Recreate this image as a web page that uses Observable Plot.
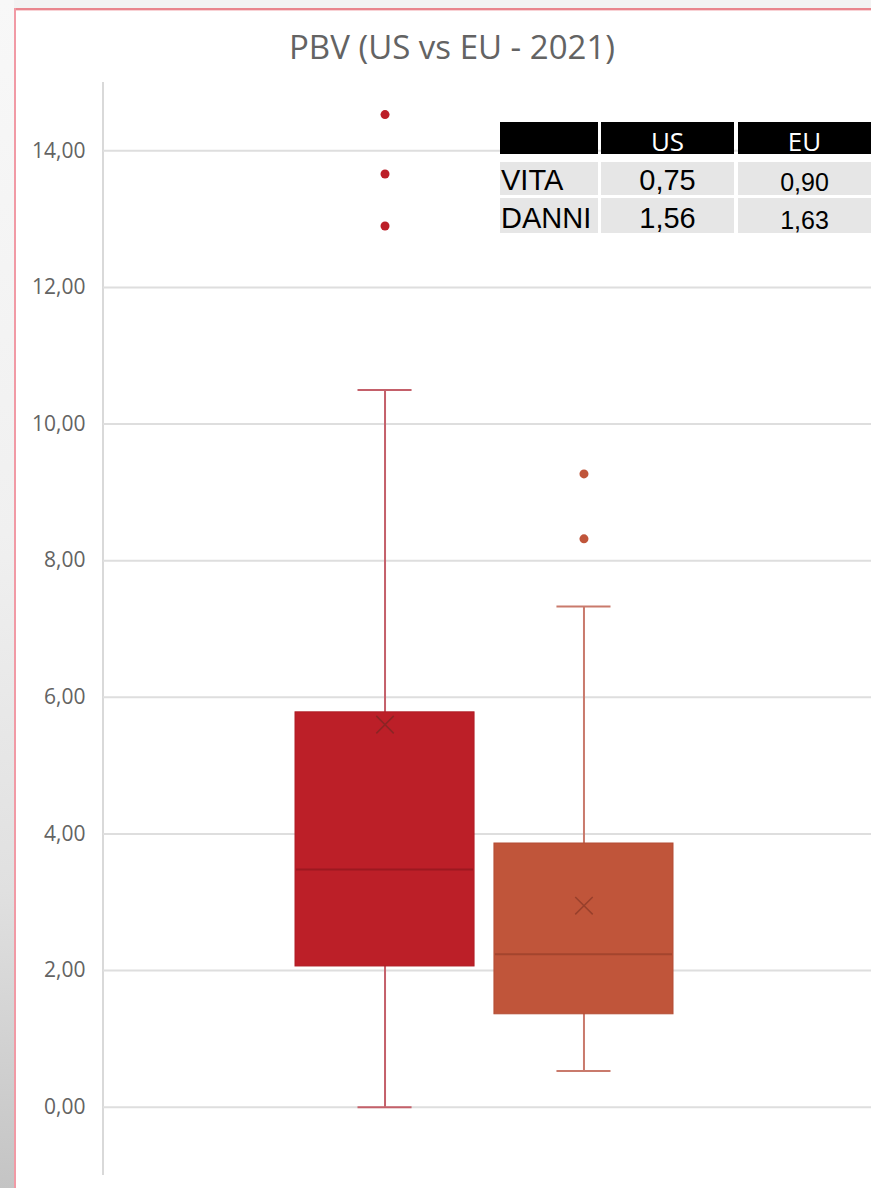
<!DOCTYPE html>
<html>
<head>
<meta charset="utf-8">
<script src="https://cdn.jsdelivr.net/npm/d3@7"></script>
<script src="https://cdn.jsdelivr.net/npm/@observablehq/plot@0.6"></script>
<style>
  html, body { margin: 0; padding: 0; background: #ffffff; }
  #page { position: relative; width: 871px; height: 1188px; overflow: hidden; background: #ffffff; }
  #topstrip { position: absolute; left: 0; top: 0; width: 871px; height: 8px; background: #f3f3f3; }
  #topline { position: absolute; left: 14px; top: 8px; width: 857px; height: 2px; background: #e9868e; }
  #topline2 { position: absolute; left: 16px; top: 10px; width: 855px; height: 1px; background: #f8d2d5; }
  #leftstrip { position: absolute; left: 0; top: 0; width: 14px; height: 1188px;
    background: linear-gradient(#f8f8f8 0%, #f0f0f0 45%, #e0e0e0 75%, #c4c4c4 100%); }
  #leftline { position: absolute; left: 14px; top: 8px; width: 2px; height: 1180px; background: #f19aa5; }
  #title { position: absolute; left: 452px; top: 30px; transform: translateX(-50%);
    font-family: "Open Sans", sans-serif; font-size: 33px; line-height: 1; color: #636363; white-space: nowrap; }
  #chart { position: absolute; left: 16px; top: 10px; }
  .cell { position: absolute; display: flex; align-items: flex-end; line-height: 1; white-space: nowrap; box-sizing: border-box; }
</style>
</head>
<body>
<div id="page">
  <div id="topstrip"></div>
  <div id="leftstrip"></div>
  <div id="topline"></div>
  <div id="topline2"></div>
  <div id="leftline"></div>
  <div id="chart"></div>
  <div id="title">PBV (US vs EU - 2021)</div>
  <div id="table"></div>
</div>
<script>
// ---------------- data ----------------
const titleText = "PBV (US vs EU - 2021)";
const series = ["US", "EU"];
const whiskerLow = [0.00, 0.53];
const q1 = [2.06, 1.36];
const median = [3.48, 2.24];
const q3 = [5.78, 3.86];
const whiskerHigh = [10.50, 7.33];
const mean = [5.60, 2.95];
const outlierSeries = ["US", "US", "US", "EU", "EU"];
const outlierValues = [14.53, 13.66, 12.90, 9.27, 8.32];
const yTicks = [0, 2, 4, 6, 8, 10, 12, 14];

const tableHeader = ["", "US", "EU"];
const tableRowLabels = ["VITA", "DANNI"];
const tableUS = ["0,75", "1,56"];
const tableEU = ["0,90", "1,63"];

// ---------------- styles ----------------
const boxFill = {US: "#bc1f28", EU: "#c0553a"};
const boxStroke = {US: "#b01c25", EU: "#b44d34"};
const whiskerStroke = {US: "#c4606a", EU: "#c97a6c"};
const medianStroke = {US: "#9c1920", EU: "#a3452e"};
const meanStroke = {US: "#8c2525", EU: "#98402c"};

const boxes = series.map((s, i) => ({
  series: s, lo: whiskerLow[i], q1: q1[i], median: median[i], q3: q3[i], hi: whiskerHigh[i], mean: mean[i]
}));
const outliers = outlierSeries.map((s, i) => ({series: s, value: outlierValues[i]}));

const fmt = d => d.toFixed(2).replace(".", ",");
const capInset = 62.5;

const plot = Plot.plot({
  width: 855,
  height: 1178,
  marginLeft: 87,
  marginRight: 0,
  marginTop: 72,
  marginBottom: 13,
  style: {background: "transparent", fontFamily: "'Open Sans', sans-serif", fontSize: "21px", color: "#636363", overflow: "visible"},
  x: {type: "band", domain: series, range: [279, 657], paddingInner: 0.1, paddingOuter: 0, round: false, axis: null},
  y: {domain: [-1, 15], ticks: yTicks, tickFormat: fmt, tickSize: 0, tickPadding: 18, label: null},
  color: {type: "identity"},
  marks: [
    Plot.ruleY(yTicks, {stroke: "#dedede", strokeWidth: 2}),
    Plot.ruleX(boxes, {x: "series", y1: "lo", y2: "hi", stroke: d => whiskerStroke[d.series], strokeWidth: 2}),
    Plot.tickY(boxes, {x: "series", y: "lo", stroke: d => whiskerStroke[d.series], strokeWidth: 2, insetLeft: capInset, insetRight: capInset}),
    Plot.tickY(boxes, {x: "series", y: "hi", stroke: d => whiskerStroke[d.series], strokeWidth: 2, insetLeft: capInset, insetRight: capInset}),
    Plot.barY(boxes, {x: "series", y1: "q1", y2: "q3", fill: d => boxFill[d.series], stroke: d => boxStroke[d.series], strokeWidth: 1}),
    Plot.tickY(boxes, {x: "series", y: "median", stroke: d => medianStroke[d.series], strokeWidth: 2, insetLeft: 1, insetRight: 1}),
    Plot.dot(boxes, {x: "series", y: "mean", symbol: "times", r: 8, stroke: d => meanStroke[d.series], strokeWidth: 1.5}),
    Plot.dot(outliers, {x: "series", y: "value", r: 4.5, fill: d => boxFill[d.series], stroke: "none"})
  ]
});
document.getElementById("chart").appendChild(plot);

// vertical axis line (style only)
d3.select(plot).insert("line", ":first-child")
  .attr("x1", 87).attr("x2", 87).attr("y1", 72).attr("y2", 1165)
  .attr("stroke", "#d9d9d9").attr("stroke-width", 2);

document.getElementById("title").textContent = titleText;

// ---------------- table ----------------
const colX = [[500, 598], [601, 734], [738, 871]];
const rowY = [[122, 154], [162, 195], [198, 233]];
const tbl = document.getElementById("table");
function cell(text, col, row, opts) {
  const d = document.createElement("div");
  d.className = "cell";
  d.style.left = colX[col][0] + "px";
  d.style.width = (colX[col][1] - colX[col][0]) + "px";
  d.style.top = rowY[row][0] + "px";
  d.style.height = (rowY[row][1] - rowY[row][0]) + "px";
  d.style.background = opts.bg;
  d.style.color = opts.color;
  d.style.fontFamily = opts.font;
  d.style.fontSize = opts.size + "px";
  d.style.justifyContent = opts.align;
  d.style.paddingLeft = (opts.padLeft || 0) + "px";
  d.textContent = text;
  tbl.appendChild(d);
}
tableHeader.forEach((t, c) => cell(t, c, 0, {bg: "#000000", color: "#ffffff", font: "'Open Sans', sans-serif", size: 26, align: "center"}));
tableRowLabels.forEach((t, r) => {
  cell(t, 0, r + 1, {bg: "#e6e6e6", color: "#000000", font: "'Liberation Sans', Arial, sans-serif", size: 29, align: "flex-start", padLeft: 1});
  cell(tableUS[r], 1, r + 1, {bg: "#e6e6e6", color: "#000000", font: "'Liberation Sans', Arial, sans-serif", size: 29, align: "center"});
  cell(tableEU[r], 2, r + 1, {bg: "#e6e6e6", color: "#000000", font: "'Liberation Sans', Arial, sans-serif", size: 25, align: "center"});
});
</script>
</body>
</html>
